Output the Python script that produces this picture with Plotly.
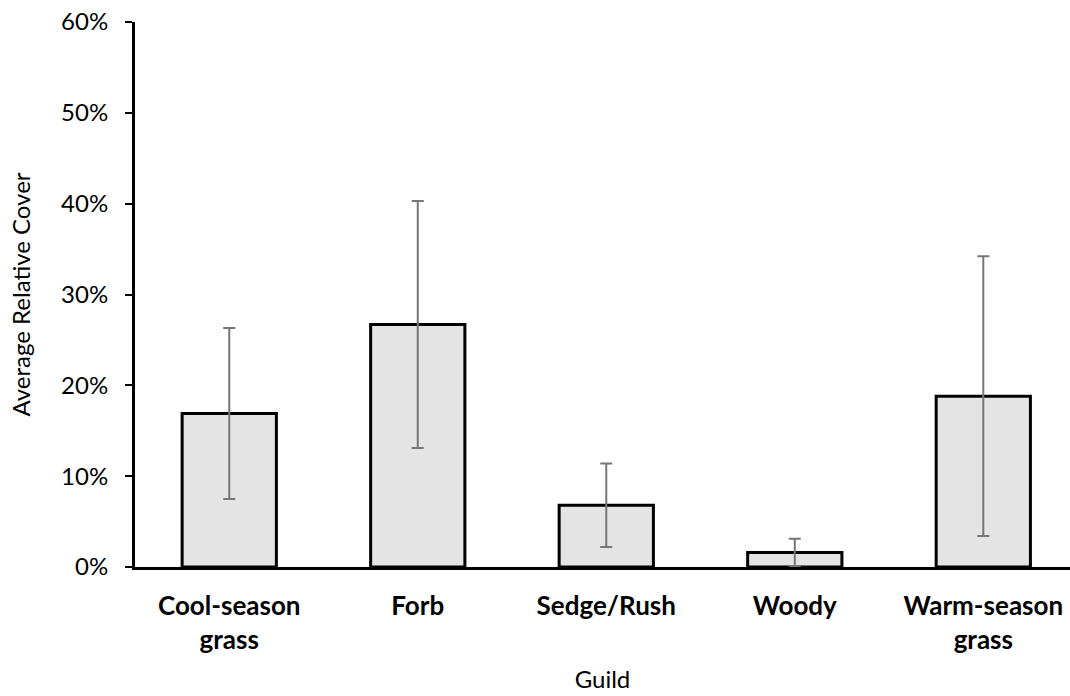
import plotly.graph_objects as go

# Average relative cover by plant guild, with error bars (fractions of 1)
guilds = ["Cool-season<br>grass", "Forb", "Sedge/Rush", "Woody", "Warm-season<br>grass"]
mean_cover = [0.169, 0.267, 0.068, 0.016, 0.188]
cover_err = [0.094, 0.136, 0.046, 0.015, 0.154]

y_ticks = [0, 0.1, 0.2, 0.3, 0.4, 0.5, 0.6]
y_tick_text = ["0%", "10%", "20%", "30%", "40%", "50%", "60%"]

FONT = "Lato"

fig = go.Figure(
    go.Bar(
        x=list(range(len(guilds))),
        y=mean_cover,
        width=0.5,
        marker=dict(color="#e4e4e4", line=dict(color="#000000", width=3)),
        error_y=dict(
            type="data",
            array=cover_err,
            visible=True,
            color="#767676",
            thickness=2,
            width=6,
        ),
    )
)

fig.update_layout(
    width=1070,
    height=696,
    margin=dict(l=135, r=0, t=22, b=129),
    paper_bgcolor="white",
    plot_bgcolor="white",
    showlegend=False,
    font=dict(family=FONT, color="#000000"),
)

fig.update_xaxes(
    range=[-0.5, 4.46],
    tickmode="array",
    tickvals=list(range(len(guilds))),
    ticktext=[f"<b>{g}</b>" for g in guilds],
    tickfont=dict(family=FONT, size=26, color="#000000"),
    ticks="",
    ticklabelstandoff=14,
    showline=True,
    linecolor="#000000",
    linewidth=3,
    showgrid=False,
    zeroline=False,
    title=dict(text="Guild", font=dict(family=FONT, size=24, color="#000000"), standoff=18),
)

fig.update_yaxes(
    range=[0, 0.6],
    tickmode="array",
    tickvals=y_ticks,
    ticktext=y_tick_text,
    tickfont=dict(family=FONT, size=24, color="#000000"),
    ticks="outside",
    ticklen=7,
    tickwidth=2,
    tickcolor="#000000",
    ticklabelstandoff=12,
    showline=True,
    linecolor="#000000",
    linewidth=3,
    showgrid=False,
    zeroline=False,
    title=dict(text="Average Relative Cover", font=dict(family=FONT, size=24, color="#000000"), standoff=24),
)

fig.write_html("out.html")
